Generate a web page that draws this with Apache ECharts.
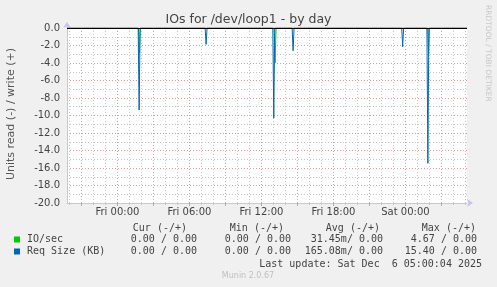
<!DOCTYPE html>
<html>
<head>
<meta charset="utf-8">
<script src="https://cdn.jsdelivr.net/npm/echarts@6/dist/echarts.min.js"></script>
<style>
html,body{margin:0;padding:0;background:#f0f0f0;}
#c{width:497px;height:287px;}
</style>
</head>
<body>
<div id="c"></div>
<script>
// ---- data (hours relative to Fri 00:00) ----
const xMinHour = -4.2;
const xMaxHour = 29.13;
const xTickHours = [0, 6, 12, 18, 24];
const xTickLabels = ['Fri 00:00', 'Fri 06:00', 'Fri 12:00', 'Fri 18:00', 'Sat 00:00'];
const minorGridHours = [-4,-3,-2,-1,0,1,2,3,4,5,6,7,8,9,10,11,12,13,14,15,16,17,18,19,20,21,22,23,24,25,26,27,28,29];
const majorGridHours = [-3,0,3,6,9,12,15,18,21,24,27];

const ioTimes  = [-4.2, 1.75, 1.83, 1.91, 13.06, 13.14, 13.22, 25.85, 25.93, 26.01, 29.13];
const ioValues = [0, 0, -2.9, 0, 0, -4.0, 0, 0, -3.0, 0, 0];

const reqTimes  = [-4.2, 1.73, 1.81, 1.89, 7.31, 7.39, 7.47, 12.95, 13.03, 13.11, 14.56, 14.64, 14.72, 23.69, 23.77, 23.85, 25.79, 25.87, 25.95, 29.13];
const reqValues = [0, 0, -9.37, 0, 0, -1.87, 0, 0, -10.3, 0, 0, -2.6, 0, 0, -2.13, 0, 0, -15.46, 0, 0];

const legendNames = ['IO/sec', 'Req Size (KB)'];
const legendColors = ['#00cc00', '#0066b3'];
const legendHeaders = ['Cur (-/+)', 'Min (-/+)', 'Avg (-/+)', 'Max (-/+)'];
const curVals = ['0.00 / 0.00', '0.00 / 0.00'];
const minVals = ['0.00 / 0.00', '0.00 / 0.00'];
const avgVals = ['31.45m/ 0.00', '165.08m/ 0.00'];
const maxVals = ['4.67 / 0.00', '15.40 / 0.00'];
const lastUpdate = 'Last update: Sat Dec  6 05:00:04 2025';
const titleText = 'IOs for /dev/loop1 - by day';
const yAxisTitle = 'Units read (-) / write (+)';

// ---- layout ----
const MONO = '10px "DejaVu Sans Mono", monospace';
const SANS = '"DejaVu Sans", sans-serif';
const axisColor = '#c4c4f4';
const minorGrid = { color: '#c8c8c8', type: [1, 2], width: 1 };
const majorGrid = { color: '#dc9a9a', type: [1, 2], width: 1 };

const zip = (t, v) => t.map((x, i) => [x, v[i]]);

const graphics = [];
graphics.push({ type: 'text', x: 11, y: 114, rotation: Math.PI / 2,
  style: { text: yAxisTitle, font: '11px ' + SANS, fill: '#555', align: 'center', verticalAlign: 'middle' } });
graphics.push({ type: 'text', x: 488, y: 5, rotation: -Math.PI / 2,
  style: { text: 'RRDTOOL / TOBI OETIKER', font: '7.5px ' + SANS, fill: '#c8c8c8', align: 'left', verticalAlign: 'middle' } });
const headerRight = [187, 284, 380, 476];
const colRight = [197, 291, 383, 477];
legendHeaders.forEach((h, i) => graphics.push({ type: 'text', x: headerRight[i], y: 228,
  style: { text: h, font: MONO, fill: '#444', align: 'right', verticalAlign: 'middle' } }));
const cols = [curVals, minVals, avgVals, maxVals];
const rowY = [239.5, 251.5];
legendNames.forEach((n, r) => {
  graphics.push({ type: 'rect', shape: { x: 14, y: rowY[r] - 3, width: 6, height: 6 }, style: { fill: legendColors[r] } });
  graphics.push({ type: 'text', x: 27, y: rowY[r], style: { text: n, font: MONO, fill: '#444', align: 'left', verticalAlign: 'middle' } });
  cols.forEach((c, i) => graphics.push({ type: 'text', x: colRight[i], y: rowY[r],
    style: { text: c[r], font: MONO, fill: '#444', align: 'right', verticalAlign: 'middle' } }));
});
graphics.push({ type: 'text', x: 482, y: 264, style: { text: lastUpdate, font: MONO, fill: '#444', align: 'right', verticalAlign: 'middle' } });
graphics.push({ type: 'text', x: 248, y: 276, style: { text: 'Munin 2.0.67', font: '8px ' + SANS, fill: '#c0c0c0', align: 'center', verticalAlign: 'middle' } });

const chart = echarts.init(document.getElementById('c'), null, { renderer: 'canvas' });
chart.setOption({
  animation: false,
  backgroundColor: '#f0f0f0',
  title: { text: titleText, left: 'center', top: 8,
    textStyle: { fontFamily: SANS, fontSize: 12.5, fontWeight: 'normal', color: '#444' } },
  grid: { left: 67, right: 30, top: 28, bottom: 84, show: true, backgroundColor: '#ffffff', borderWidth: 0 },
  xAxis: [
    { type: 'value', min: xMinHour, max: xMaxHour, position: 'bottom',
      axisLine: { show: false, onZero: false },
      axisTick: { show: true, customValues: minorGridHours, length: 2, inside: false, lineStyle: { color: '#c8c8c8' } },
      axisLabel: { show: false },
      splitLine: { show: true, lineStyle: minorGrid } },
    { type: 'value', min: xMinHour, max: xMaxHour, position: 'bottom',
      axisLine: { show: true, onZero: false, symbol: ['none', 'arrow'], symbolSize: [6, 6], symbolOffset: [0, 6], lineStyle: { color: axisColor, width: 1 } },
      axisTick: { show: true, customValues: majorGridHours, length: 3, lineStyle: { color: '#dc9a9a' } },
      axisLabel: { show: true, customValues: xTickHours, margin: 4, color: '#444', fontFamily: SANS, fontSize: 10,
        formatter: v => xTickLabels[xTickHours.indexOf(v)] || '' },
      splitLine: { show: true, lineStyle: majorGrid } }
  ],
  yAxis: [
    { type: 'value', min: -20, max: 0, interval: 1, position: 'left',
      axisLine: { show: false, onZero: false }, axisTick: { show: false }, axisLabel: { show: false },
      splitLine: { show: true, lineStyle: minorGrid } },
    { type: 'value', min: -20, max: 0, interval: 2, position: 'left',
      axisLine: { show: true, onZero: false, symbol: ['none', 'arrow'], symbolSize: [6, 6], symbolOffset: [0, 6], lineStyle: { color: axisColor, width: 1 } },
      axisTick: { show: false },
      axisLabel: { show: true, margin: 7, color: '#444', fontFamily: SANS, fontSize: 10, formatter: v => v.toFixed(1) },
      splitLine: { show: true, lineStyle: majorGrid } }
  ],
  series: [
    { name: legendNames[0], type: 'line', xAxisIndex: 0, yAxisIndex: 0, data: zip(ioTimes, ioValues),
      showSymbol: false, symbol: 'none', lineStyle: { color: legendColors[0], width: 1 }, z: 3 },
    { name: legendNames[1], type: 'line', xAxisIndex: 0, yAxisIndex: 0, data: zip(reqTimes, reqValues),
      showSymbol: false, symbol: 'none', lineStyle: { color: legendColors[1], width: 1 }, z: 4,
      markLine: { silent: true, symbol: 'none', label: { show: false },
        lineStyle: { color: '#000000', type: 'solid', width: 1 }, data: [{ yAxis: 0 }] } }
  ],
  graphic: graphics
});
</script>
</body>
</html>
